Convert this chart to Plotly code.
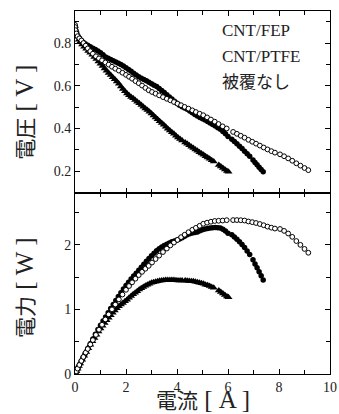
import plotly.graph_objects as go

# ---------------- data ----------------
# open circles
fep_current = [0.00, 0.00, 0.02, 0.05, 0.10, 0.17, 0.25, 0.33, 0.42, 0.50, 0.60, 0.70, 0.82, 0.94,
               1.06, 1.19, 1.32, 1.45, 1.58, 1.72, 1.86, 2.00, 2.12, 2.24, 2.37, 2.50, 2.63, 2.76,
               2.89, 3.02, 3.16, 3.30, 3.45, 3.60, 3.74, 3.88, 4.02, 4.16, 4.30, 4.45, 4.60, 4.74,
               4.89, 5.03, 5.18, 5.33, 5.48, 5.63, 5.79, 5.95,
               6.20, 6.35, 6.50, 6.65, 6.80, 6.95, 7.10, 7.25, 7.40, 7.55, 7.70, 7.84,
               8.04, 8.20, 8.36, 8.52, 8.68, 8.84, 9.00, 9.15]
fep_voltage = [0.885, 0.875, 0.860, 0.845, 0.832, 0.822, 0.812, 0.800, 0.788, 0.775, 0.762, 0.750, 0.738, 0.728,
               0.719, 0.709, 0.699, 0.689, 0.680, 0.671, 0.661, 0.651, 0.642, 0.633, 0.622, 0.612, 0.601, 0.590,
               0.579, 0.571, 0.563, 0.555, 0.547, 0.539, 0.532, 0.524, 0.516, 0.509, 0.501, 0.493, 0.485, 0.477,
               0.469, 0.462, 0.452, 0.442, 0.432, 0.421, 0.410, 0.400,
               0.384, 0.375, 0.366, 0.357, 0.347, 0.338, 0.329, 0.320, 0.311, 0.302, 0.294, 0.287,
               0.279, 0.270, 0.260, 0.249, 0.237, 0.226, 0.215, 0.205]

# filled circles
ptfe_current = [0.00, 0.03, 0.07, 0.12, 0.18, 0.25, 0.32, 0.40, 0.50, 0.60, 0.70, 0.80, 0.90, 1.00,
                1.10, 1.20, 1.30, 1.40, 1.50, 1.60, 1.70, 1.80, 1.90, 2.00, 2.10, 2.20, 2.30, 2.40,
                2.50, 2.60, 2.70, 2.80, 2.90, 3.00, 3.10, 3.20, 3.30, 3.40, 3.50, 3.60, 3.70, 3.80,
                3.90, 4.00, 4.10, 4.20, 4.30, 4.40, 4.50, 4.60, 4.70, 4.80, 4.90, 5.00, 5.10, 5.20,
                5.30, 5.40, 5.50, 5.60, 5.70, 5.80, 5.90, 6.00,
                6.15, 6.25, 6.35, 6.45, 6.55, 6.65, 6.75, 6.85,
                6.98, 7.06, 7.14, 7.22, 7.30, 7.38]
ptfe_voltage = [0.880, 0.860, 0.845, 0.832, 0.822, 0.812, 0.804, 0.797, 0.790, 0.783, 0.776, 0.770, 0.763, 0.755,
                0.745, 0.735, 0.729, 0.723, 0.717, 0.711, 0.705, 0.699, 0.692, 0.684, 0.676, 0.668, 0.659, 0.650,
                0.642, 0.635, 0.629, 0.623, 0.616, 0.610, 0.603, 0.596, 0.587, 0.578, 0.568, 0.558, 0.548, 0.538,
                0.528, 0.518, 0.509, 0.502, 0.496, 0.490, 0.482, 0.474, 0.466, 0.458, 0.452, 0.446, 0.440, 0.433,
                0.426, 0.419, 0.412, 0.404, 0.396, 0.386, 0.375, 0.363,
                0.350, 0.339, 0.328, 0.317, 0.306, 0.294, 0.282, 0.270,
                0.253, 0.241, 0.230, 0.219, 0.208, 0.197]

# filled triangles
bare_current = [0.00, 0.02, 0.05, 0.10, 0.15, 0.20, 0.28, 0.36, 0.44, 0.52, 0.60, 0.68, 0.76, 0.84,
                0.92, 1.00, 1.08, 1.16, 1.24, 1.32, 1.40, 1.48, 1.56, 1.64, 1.72, 1.80, 1.88, 1.96,
                2.04, 2.12, 2.20, 2.28, 2.36, 2.44, 2.52, 2.60, 2.68, 2.76, 2.84, 2.92, 3.00, 3.08,
                3.16, 3.24, 3.32, 3.40, 3.48, 3.56, 3.64, 3.72, 3.80, 3.88, 3.96, 4.04, 4.12, 4.20,
                4.32, 4.40, 4.48, 4.56, 4.64, 4.72, 4.80, 4.88, 4.96, 5.04, 5.12, 5.20, 5.28, 5.36, 5.44,
                5.64, 5.72, 5.80, 5.88, 5.96, 6.02]
bare_voltage = [0.880, 0.860, 0.845, 0.830, 0.815, 0.805, 0.793, 0.783, 0.773, 0.763, 0.754, 0.745, 0.735, 0.725,
                0.714, 0.703, 0.692, 0.681, 0.670, 0.660, 0.650, 0.640, 0.630, 0.620, 0.609, 0.597, 0.585, 0.574,
                0.564, 0.556, 0.548, 0.541, 0.533, 0.525, 0.518, 0.510, 0.502, 0.494, 0.486, 0.478, 0.470, 0.461,
                0.452, 0.443, 0.434, 0.426, 0.417, 0.408, 0.399, 0.391, 0.383, 0.375, 0.366, 0.358, 0.351, 0.344,
                0.335, 0.328, 0.321, 0.315, 0.309, 0.302, 0.296, 0.289, 0.283, 0.277, 0.270, 0.264, 0.258, 0.251, 0.245,
                0.229, 0.222, 0.215, 0.208, 0.201, 0.197]

# power = current x voltage (what the lower panel shows)
fep_power = [i * v for i, v in zip(fep_current, fep_voltage)]
ptfe_power = [i * v for i, v in zip(ptfe_current, ptfe_voltage)]
bare_power = [i * v for i, v in zip(bare_current, bare_voltage)]

legend_labels = ["CNT/FEP", "CNT/PTFE", "被覆なし"]
x_ticks = [0, 2, 4, 6, 8, 10]
v_ticks = [0.2, 0.4, 0.6, 0.8]
p_ticks = [0, 1, 2]

# ---------------- figure ----------------
SERIF = '"Liberation Serif", "Times New Roman", "Noto Sans CJK JP", serif'
fig = go.Figure()

tri = dict(symbol="triangle-up", size=7, color="black", line=dict(width=0))
fil = dict(symbol="circle", size=5.5, color="black", line=dict(width=0))
opn = dict(symbol="circle", size=4.8, color="white", line=dict(width=1, color="black"))

for xa, ya, pw in [("x2", "y2", False), ("x", "y", True)]:
    fig.add_trace(go.Scatter(x=bare_current, y=bare_power if pw else bare_voltage, mode="markers",
                             marker=tri, name=legend_labels[2], xaxis=xa, yaxis=ya, showlegend=False))
    fig.add_trace(go.Scatter(x=ptfe_current, y=ptfe_power if pw else ptfe_voltage, mode="markers",
                             marker=fil, name=legend_labels[1], xaxis=xa, yaxis=ya, showlegend=False))
    fig.add_trace(go.Scatter(x=fep_current, y=fep_power if pw else fep_voltage, mode="markers",
                             marker=opn, name=legend_labels[0], xaxis=xa, yaxis=ya, showlegend=False))

axis_common = dict(showline=True, linecolor="black", linewidth=1, mirror="ticks", ticks="inside",
                   ticklen=5, tickwidth=1, tickcolor="black", showgrid=False, zeroline=False,
                   tickfont=dict(family=SERIF, size=14, color="#222"))

split = 0.4986
fig.update_layout(
    width=339, height=414,
    margin=dict(l=75, r=9, t=11, b=40, autoexpand=False),
    paper_bgcolor="white", plot_bgcolor="white",
    showlegend=False,
    xaxis=dict(axis_common, range=[0, 10], tickvals=x_ticks, anchor="y",
               minor=dict(ticks="inside", ticklen=4, dtick=1, tick0=0, tickcolor="black")),
    yaxis=dict(axis_common, range=[0, 2.8], tickvals=p_ticks, domain=[0, split], anchor="x",
               minor=dict(ticks="inside", ticklen=4, dtick=0.5, tick0=0, tickcolor="black")),
    xaxis2=dict(axis_common, range=[0, 10], tickvals=x_ticks, anchor="y2", matches="x",
                showticklabels=False,
                minor=dict(ticks="inside", ticklen=4, dtick=1, tick0=0, tickcolor="black")),
    yaxis2=dict(axis_common, range=[0.098, 0.95], tickvals=v_ticks, tickformat=".1f",
                domain=[split, 1], anchor="x2",
                minor=dict(ticks="inside", ticklen=4, dtick=0.1, tick0=0, tickcolor="black")),
)

# axis titles: gothic kanji + larger serif Latin part
def title_text(kanji, unit):
    return kanji + "<span style='font-size:25px'> [ " + unit + " ]</span>"

fig.add_annotation(text=title_text("電圧", "V"), xref="paper", yref="paper", x=-0.196, y=0.72,
                   textangle=-90, showarrow=False, xanchor="center", yanchor="middle",
                   font=dict(family=SERIF, size=21, color="#222"))
fig.add_annotation(text=title_text("電力", "W"), xref="paper", yref="paper", x=-0.196, y=0.237,
                   textangle=-90, showarrow=False, xanchor="center", yanchor="middle",
                   font=dict(family=SERIF, size=21, color="#222"))
fig.add_annotation(text=title_text("電流", "A"), xref="paper", yref="paper", x=0.5, y=-0.1095,
                   showarrow=False, xanchor="center", yanchor="bottom", borderpad=0,
                   font=dict(family=SERIF, size=21, color="#222"))

# legend text (no symbols in the reference)
for lab, yy in zip(legend_labels, [0.945, 0.875, 0.804]):
    fig.add_annotation(text=lab, xref="paper", yref="paper", x=0.567, y=yy, showarrow=False,
                       xanchor="left", yanchor="middle",
                       font=dict(family=SERIF, size=17, color="#222"))

# remove the default page margin so the figure sits at the window's top-left corner
fig.write_html("out.html", config={"displayModeBar": False},
               post_script="document.body.style.margin='0';document.body.style.overflow='hidden';")
